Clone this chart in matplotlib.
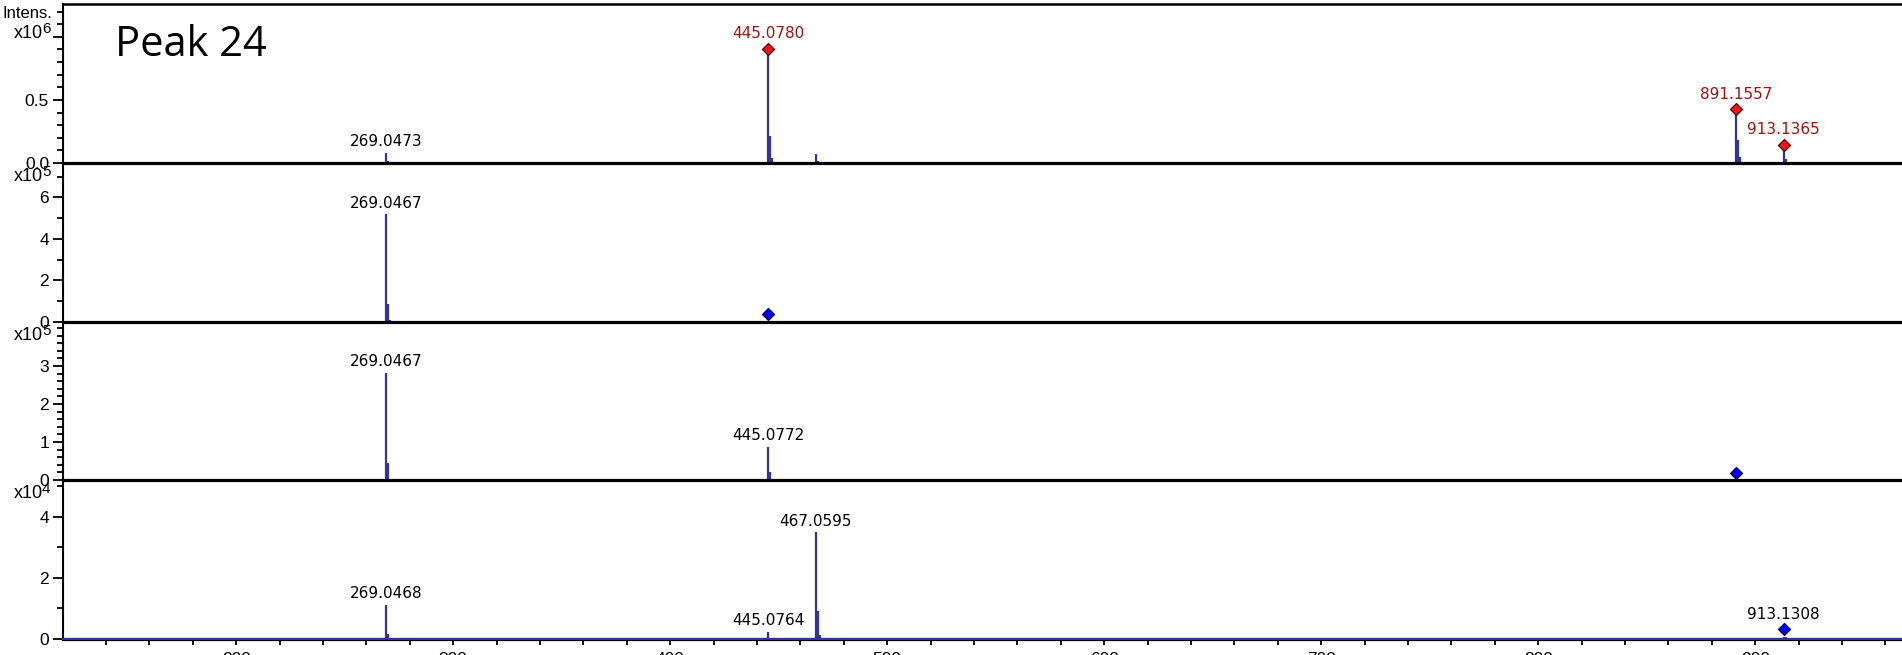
import matplotlib
matplotlib.use('Agg')
import matplotlib.pyplot as plt
import matplotlib.transforms as mtransforms
from matplotlib.ticker import FixedLocator, MultipleLocator, FixedFormatter

plt.rcParams['font.family'] = ['Liberation Sans', 'DejaVu Sans']

# m/z range of the x axis
mz_lim = (120.2, 968.5)
x_ticks = [200, 300, 400, 500, 600, 700, 800, 900]

# panel 1, intensity x10^6
p1_mz = [269.0473, 270.05, 445.0780, 446.08, 447.08, 467.06, 468.06, 514.7, 548.9,
         667.5, 757.0, 891.1557, 892.16, 893.16, 913.1365, 914.14, 915.14, 928.0,
         934.6, 960.6, 962.0]
p1_int = [0.08, 0.012, 0.86, 0.21, 0.04, 0.07, 0.012, 0.005, 0.004,
          0.006, 0.003, 0.38, 0.18, 0.05, 0.10, 0.03, 0.01, 0.006,
          0.006, 0.006, 0.006]
p1_lab_mz = [269.0473]
p1_lab_int = [0.08]
p1_red_mz = [445.0780, 891.1557, 913.1365]
p1_red_int = [0.86, 0.38, 0.10]

# panel 2, intensity x10^5
p2_mz = [269.0467, 270.05, 271.05]
p2_int = [5.19, 0.87, 0.10]
p2_lab_mz = [269.0467]
p2_lab_int = [5.19]
p2_blue_mz = [445.08]
p2_blue_int = [0.37]

# panel 3, intensity x10^5
p3_mz = [269.0467, 270.05, 445.0772, 446.08]
p3_int = [2.82, 0.45, 0.87, 0.20]
p3_lab_mz = [269.0467, 445.0772]
p3_lab_int = [2.82, 0.87]
p3_blue_mz = [891.16]
p3_blue_int = [0.18]

# panel 4, intensity x10^4
p4_mz = [269.0468, 270.05, 285.6, 291.8, 311.6, 445.0764, 446.08, 467.0595, 468.06,
         469.06, 483.0, 499.0, 674.0, 913.13, 914.13, 948.0]
p4_int = [1.12, 0.18, 0.04, 0.04, 0.04, 0.24, 0.04, 3.50, 0.93,
          0.14, 0.04, 0.04, 0.04, 0.06, 0.06, 0.04]
p4_lab_mz = [269.0468, 445.0764, 467.0595]
p4_lab_int = [1.12, 0.24, 3.50]
p4_blue_mz = [913.1308]
p4_blue_int = [0.34]

peak_color = '#333399'
red_fill, red_edge, red_text = '#e8191c', '#5c0000', '#9c1212'
blue_fill, blue_edge = '#0000ff', '#00005a'

W, H = 1902, 655
fig = plt.figure(figsize=(W / 100, H / 100), dpi=100)

# panel edges in pixels: top of panel 1, then the zero line of each panel
edges = [4, 163, 322, 480, 639]
left = 63

panels = [
    dict(mz=p1_mz, inten=p1_int, ytop=1.26, major=[0, 0.5, 1.0], labels=['0.0', '0.5', ''],
         minor=0.1, exp='6'),
    dict(mz=p2_mz, inten=p2_int, ytop=7.66, major=[0, 2, 4, 6], labels=['0', '2', '4', '6'],
         minor=1, exp='5'),
    dict(mz=p3_mz, inten=p3_int, ytop=4.16, major=[0, 1, 2, 3], labels=['0', '1', '2', '3'],
         minor=0.2, exp='5'),
    dict(mz=p4_mz, inten=p4_int, ytop=5.21, major=[0, 2, 4], labels=['0', '2', '4'],
         minor=1, exp='4'),
]

axes = []
for i, p in enumerate(panels):
    top, bot = edges[i], edges[i + 1]
    ax = fig.add_axes([left / W, 1 - bot / H, 1 - left / W + 0.001, (bot - top) / H])
    axes.append(ax)
    ax.vlines(p['mz'], 0, p['inten'], color=peak_color, lw=1.6)
    ax.set_xlim(*mz_lim)
    ax.set_ylim(0, p['ytop'])
    ax.yaxis.set_major_locator(FixedLocator(p['major']))
    ax.yaxis.set_major_formatter(FixedFormatter(p['labels']))
    ax.yaxis.set_minor_locator(MultipleLocator(p['minor']))
    ax.tick_params(axis='y', which='major', length=7, width=1.3, pad=3, labelsize=12.5)
    ax.tick_params(axis='y', which='minor', length=4.3, width=1.3)
    ax.spines['right'].set_visible(False)
    ax.spines['left'].set_linewidth(1.5)
    ax.spines['bottom'].set_linewidth(2.3)
    ax.spines['top'].set_visible(i == 0)
    ax.spines['top'].set_linewidth(1.8)
    if i < 3:
        ax.tick_params(axis='x', which='both', bottom=False, labelbottom=False)
    ax.set_facecolor('none')
    # exponent label on the y axis: "x10" with a large raised exponent
    ybase = 0.786 if i == 0 else 0.887
    base = ax.text(-0.011, ybase, 'x10', transform=ax.transAxes,
                   ha='right', va='baseline', fontsize=13)
    ax.annotate(p['exp'], xy=(1, 0), xycoords=base, xytext=(-0.5, 4.5),
                textcoords='offset points', ha='left', va='bottom', fontsize=11)

ax1, ax2, ax3, ax4 = axes
ax1.text(-0.006, 0.91, 'Intens.', transform=ax1.transAxes, ha='right', va='baseline', fontsize=12)
ax1.text(0.0283, 0.673, 'Peak 24', transform=ax1.transAxes, ha='left', va='baseline',
         fontsize=30, family='Open Sans')

# x axis of the bottom panel
ax4.xaxis.set_major_locator(FixedLocator(x_ticks))
ax4.xaxis.set_minor_locator(MultipleLocator(20))
ax4.tick_params(axis='x', which='major', length=4.5, width=1.3, pad=5, labelsize=12.5)
ax4.tick_params(axis='x', which='minor', length=4, width=1.3)
ax4.axhline(0, color=peak_color, lw=1.5, zorder=3, clip_on=False)

lab_font = dict(family='DejaVu Sans', fontsize=11)


def label_peaks(ax, mzs, ints, off, color='black'):
    for mz, h in zip(mzs, ints):
        ax.annotate('%.4f' % mz, (mz, h), xytext=(0, off), textcoords='offset points',
                    ha='center', va='baseline', color=color, **lab_font)


def diamonds(ax, mzs, ints, fill, edge, dy=0):
    tr = mtransforms.offset_copy(ax.transData, fig=fig, x=0, y=dy, units='points')
    ax.plot(mzs, ints, 'D', ms=6.5, mfc=fill, mec=edge, mew=0.9, transform=tr,
            clip_on=False, zorder=5)


label_peaks(ax1, p1_lab_mz, p1_lab_int, 4.7)
diamonds(ax1, p1_red_mz, p1_red_int, red_fill, red_edge, dy=4.2)
label_peaks(ax1, p1_red_mz, p1_red_int, 11.9, color=red_text)

label_peaks(ax2, p2_lab_mz, p2_lab_int, 4.7)
diamonds(ax2, p2_blue_mz, p2_blue_int, blue_fill, blue_edge)

label_peaks(ax3, p3_lab_mz, p3_lab_int, 4.7)
diamonds(ax3, p3_blue_mz, p3_blue_int, blue_fill, blue_edge)

label_peaks(ax4, p4_lab_mz, p4_lab_int, 4.7)
diamonds(ax4, p4_blue_mz, p4_blue_int, blue_fill, blue_edge)
label_peaks(ax4, p4_blue_mz, p4_blue_int, 7.2)

fig.savefig('out.png', dpi=100)
